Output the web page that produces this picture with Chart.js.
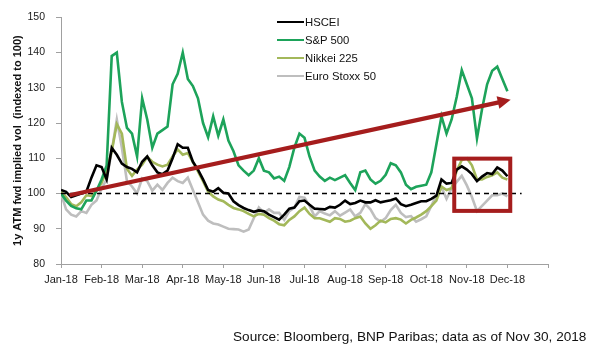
<!DOCTYPE html>
<html><head><meta charset="utf-8">
<script src="https://cdn.jsdelivr.net/npm/chart.js@4.4.1/dist/chart.umd.min.js"></script>
<style>
html,body{margin:0;padding:0;background:#fff;}
#wrap{position:relative;width:594px;height:355px;overflow:hidden;}
canvas{position:absolute;left:0;top:0;}
.leg{position:absolute;left:277px;font:11.3px "Liberation Sans",Arial,sans-serif;color:#111;line-height:13px;white-space:nowrap;}
.leg .sw{display:inline-block;width:27px;height:0;border-top:2.8px solid;vertical-align:middle;margin-right:1px;position:relative;top:-1px;}
#src{position:absolute;left:233px;top:329px;font:13.6px "Liberation Sans",Arial,sans-serif;color:#111;white-space:nowrap;line-height:16px;}
</style></head>
<body>
<div id="wrap">
<canvas id="c" width="594" height="355"></canvas>
<div id="legend"></div>
<div id="src">Source: Bloomberg, BNP Paribas; data as of Nov 30, 2018</div>
</div>
<script>
// month tick labels (x axis in months since Jan-18)
const monthLabels = ['Jan-18','Feb-18','Mar-18','Apr-18','May-18','Jun-18','Jul-18','Aug-18','Sep-18','Oct-18','Nov-18','Dec-18',''];
const seriesNames = ['HSCEI','S&P 500','Nikkei 225','Euro Stoxx 50'];
const seriesColors = ['#000000','#1DA35A','#A3B85A','#BEBEBE'];

// sampled every 1/8 month from 2 Jan 2018 to 30 Nov 2018
const hscei = [101, 100.5, 99, 99.5, 100, 100.5, 104.5, 108, 107.5, 104,
 113, 111, 108.5, 107.5, 107, 106, 109, 110.5, 108, 106,
 105.5, 106.5, 110, 114, 113, 113, 109, 106.8, 104, 101,
 100.5, 101.5, 100.2, 100, 97.8, 96.7, 95.9, 95.3, 94.8, 95.2,
 95, 94, 93.3, 92.6, 94, 95.7, 96, 97.8, 98, 96.8,
 95.7, 95.6, 95.5, 96.2, 96, 96.8, 98, 97, 97.3, 98,
 97.5, 97.5, 98.1, 97.5, 97.8, 98.1, 98.6, 97, 96.4, 96.8,
 97.3, 97.8, 97.8, 98.5, 99.4, 104, 102.8, 103, 106.8, 107.7,
 106.8, 105.5, 103.5, 104.8, 105.8, 105.5, 107.4, 106.5, 104.9];
const sp500 = [100, 98, 96.5, 95.8, 95.5, 98, 98, 100.8, 104, 108,
 139, 140, 126, 118.6, 117, 110.5, 127, 121, 113, 117,
 118, 119, 131, 134, 140, 132.5, 130.5, 127, 120, 116,
 121.9, 116.4, 121, 115, 112, 108, 106.5, 105.2, 106.5, 110,
 106.5, 106, 104.3, 104.8, 103.6, 107.5, 113, 117, 115.8, 110.5,
 106.5, 104.8, 103.6, 104.5, 103.8, 104.5, 105.2, 103, 101, 106,
 106.5, 104, 102.8, 103.6, 105.3, 108.6, 108, 106, 102.5, 101.2,
 101.9, 102.2, 102.5, 106, 114, 121.9, 117, 121, 127.4, 135,
 131, 127, 115.6, 124, 131, 134.8, 136, 132.5, 129];
const nikkei = [100.5, 99, 97, 96.4, 97.5, 99.5, 99.3, 100.8, 103, 106.5,
 112, 119.7, 117, 107, 105, 106.8, 108.2, 110.4, 109, 108.2,
 107.7, 108.2, 110.5, 112.5, 111, 111.5, 109, 106.3, 103.5, 100.5,
 99.2, 98.3, 97.8, 96.8, 95.9, 95.5, 95, 94.2, 93.5, 94.2,
 94, 93, 92.3, 91.3, 91, 92.5, 93.5, 95, 96, 94.2,
 93, 93, 92.5, 92, 93, 92.8, 92, 92.3, 93, 93.5,
 91.5, 90, 91, 92.3, 91.8, 92.8, 93, 92.6, 91.5, 92.5,
 93.2, 94, 95, 96.4, 98, 102, 101, 101.5, 106.5, 109.5,
 110, 108, 104, 104, 104.7, 105.2, 106, 104.5, 104];
const eurostoxx = [100, 95.5, 94, 93.5, 95, 94.5, 96.8, 98, 101.5, 104,
 112, 121, 113, 103.5, 102, 100, 104.3, 103.5, 100.8, 102.5,
 101, 103, 104.5, 103.5, 103, 104.5, 101, 97.5, 94, 92.3,
 91.5, 91.2, 90.6, 90, 89.9, 89.8, 89.2, 89.8, 93, 96,
 94.5, 95.5, 94.5, 94.5, 92.5, 95, 96, 99, 98.8, 96.5,
 93.5, 95, 94.3, 93.8, 95, 93.7, 94.6, 95.5, 93.5, 94.5,
 97, 95.5, 93, 92, 93, 95.3, 96.8, 94.5, 93.3, 93.6,
 92, 92.7, 93.5, 96.5, 99.5, 101.8, 98.5, 101.5, 103.3, 105,
 102.3, 99, 95, 96.5, 98, 99.5, 99.5, 100, 99.2];

// reference line and annotations (in data units)
const baseline = 100;
const baselineRange = [0, 11.35];
const arrowX = [0.21, 11.08];
const arrowY = [99.5, 126.6];
const boxX = [9.69, 11.07];
const boxY = [95.07, 109.9];

const stepMonths = 1 / 8;
const toPts = arr => arr.map((v, i) => ({ x: i * stepMonths, y: v }));
const allSeries = [hscei, sp500, nikkei, eurostoxx];

const datasets = allSeries.map((s, k) => ({
  label: seriesNames[k], data: toPts(s), borderColor: seriesColors[k],
  borderWidth: 2.6, pointRadius: 0, tension: 0, fill: false
}));
datasets.unshift({
  label: 'base', data: baselineRange.map(x => ({ x, y: baseline })),
  borderColor: '#000', borderWidth: 1.3, borderDash: [5, 4], pointRadius: 0
});

const annot = {
  id: 'annot',
  afterDatasetsDraw(chart) {
    const { ctx, scales: { x, y } } = chart;
    const red = '#A51D1D';
    ctx.save();
    const bx0 = x.getPixelForValue(boxX[0]), bx1 = x.getPixelForValue(boxX[1]);
    const by0 = y.getPixelForValue(boxY[1]), by1 = y.getPixelForValue(boxY[0]);
    ctx.strokeStyle = red; ctx.lineWidth = 4;
    ctx.strokeRect(bx0, by0, bx1 - bx0, by1 - by0);
    const x0 = x.getPixelForValue(arrowX[0]), y0 = y.getPixelForValue(arrowY[0]);
    const x1 = x.getPixelForValue(arrowX[1]), y1 = y.getPixelForValue(arrowY[1]);
    const dx = x1 - x0, dy = y1 - y0, L = Math.hypot(dx, dy);
    const ux = dx / L, uy = dy / L;
    const headLen = 13, headW = 6.5;
    ctx.beginPath();
    ctx.moveTo(x0, y0);
    ctx.lineTo(x1 - ux * (headLen - 2), y1 - uy * (headLen - 2));
    ctx.lineWidth = 4.2; ctx.lineCap = 'butt'; ctx.stroke();
    ctx.beginPath();
    ctx.moveTo(x1, y1);
    ctx.lineTo(x1 - ux * headLen - uy * headW, y1 - uy * headLen + ux * headW);
    ctx.lineTo(x1 - ux * headLen + uy * headW, y1 - uy * headLen - ux * headW);
    ctx.closePath(); ctx.fillStyle = red; ctx.fill();
    ctx.restore();
  }
};

const axisColor = '#A0A0A0';
new Chart(document.getElementById('c'), {
  type: 'line',
  data: { datasets },
  plugins: [annot],
  options: {
    responsive: false, animation: false,
    layout: { padding: { top: 8, right: 46, bottom: 61, left: 0 } },
    plugins: { legend: { display: false }, tooltip: { enabled: false } },
    scales: {
      x: {
        type: 'linear', min: 0, max: 12,
        afterFit: s => { s.height = 30; },
        ticks: { stepSize: 1, autoSkip: false, maxRotation: 0, padding: 5,
          color: '#1a1a1a', font: { family: '"Liberation Sans", Arial, sans-serif', size: 11 },
          callback: v => monthLabels[v] ?? '' },
        grid: { drawOnChartArea: false, tickLength: 4, color: axisColor },
        border: { color: axisColor }
      },
      y: {
        min: 80, max: 150,
        afterFit: s => { s.width = 61; },
        ticks: { stepSize: 10, padding: 11, color: '#1a1a1a',
          font: { family: '"Liberation Sans", Arial, sans-serif', size: 10.5 } },
        grid: { drawOnChartArea: false, tickLength: 5, color: axisColor },
        border: { color: axisColor },
        title: { display: true, text: '1y ATM fwd implied vol  (indexed to 100)',
          color: '#111', padding: { top: 11, bottom: 0 },
          font: { family: '"Liberation Sans", Arial, sans-serif', size: 11, weight: 'bold' } }
      }
    }
  }
});

// legend (HTML text)
const legendRowsY = [22, 40, 58, 76];
const lg = document.getElementById('legend');
seriesNames.forEach((n, k) => {
  const d = document.createElement('div');
  d.className = 'leg';
  d.style.top = (legendRowsY[k] - 6.5) + 'px';
  d.innerHTML = '<span class="sw" style="border-color:' + seriesColors[k] + '"></span>' + n;
  lg.appendChild(d);
});
</script>
</body></html>
